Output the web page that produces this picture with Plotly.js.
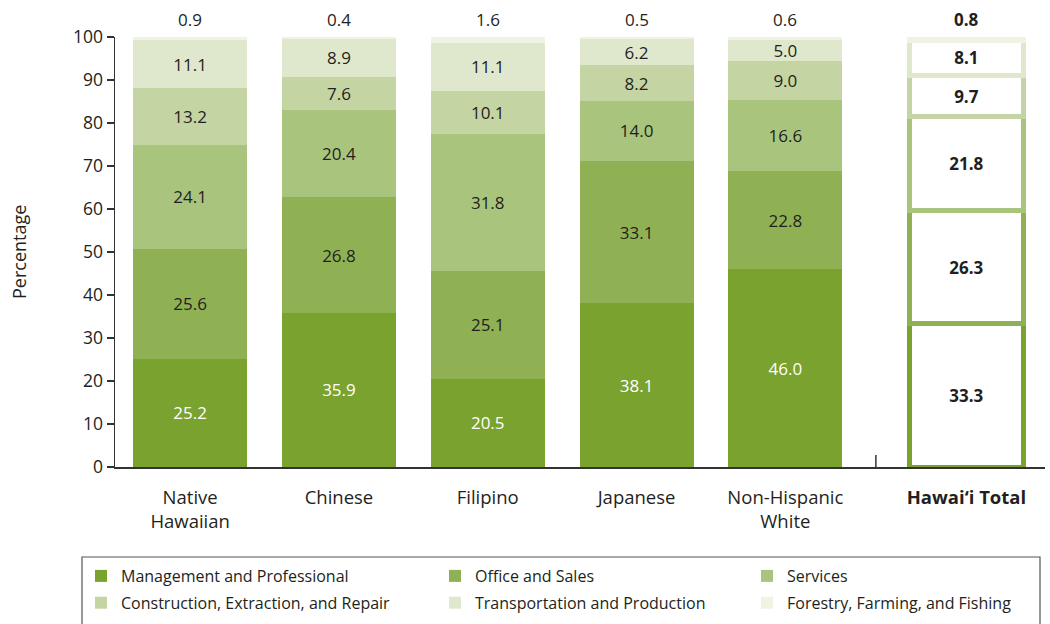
<!DOCTYPE html>
<html>
<head>
<meta charset="utf-8">
<script src="https://cdn.plot.ly/plotly-3.0.1.min.js"></script>
<style>html,body{margin:0;padding:0;background:#fff;}#chart{width:1050px;height:624px;}</style>
</head>
<body>
<div id="chart"></div>
<script>
const categories = ['Native<br>Hawaiian', 'Chinese', 'Filipino', 'Japanese', 'Non-Hispanic<br>White', '<b>Hawai\u2018i Total</b>'];
const seriesNames = ['Management and Professional', 'Office and Sales', 'Services',
  'Construction, Extraction, and Repair', 'Transportation and Production', 'Forestry, Farming, and Fishing'];
const management   = [25.2, 35.9, 20.5, 38.1, 46.0, 33.3];
const officeSales  = [25.6, 26.8, 25.1, 33.1, 22.8, 26.3];
const services     = [24.1, 20.4, 31.8, 14.0, 16.6, 21.8];
const construction = [13.2, 7.6, 10.1, 8.2, 9.0, 9.7];
const transport    = [11.1, 8.9, 11.1, 6.2, 5.0, 8.1];
const forestry     = [0.9, 0.4, 1.6, 0.5, 0.6, 0.8];
const yTicks = [0, 10, 20, 30, 40, 50, 60, 70, 80, 90, 100];

const colors = ['#7AA22F', '#90B153', '#A9C47D', '#C5D4A3', '#DFE8CD', '#EEF3E4'];
const series = [management, officeSales, services, construction, transport, forestry];
const legendIds = ['legend', 'legend2', 'legend3', 'legend', 'legend2', 'legend3'];
const n = categories.length;
const totalIdx = n - 1;
const gap = 0.217;
const xs = categories.map((c, i) => i === totalIdx ? i + gap : i);
const FONT = 'Open Sans, sans-serif';
const dark = '#231F20';

const traces = series.map((vals, s) => {
  const showText = s < 5;
  return {
    type: 'bar',
    name: seriesNames[s],
    legend: legendIds[s],
    legendgroup: 'g' + s,
    x: xs,
    y: vals,
    width: 0.766,
    marker: {
      color: vals.map((v, i) => i === totalIdx ? '#ffffff' : colors[s]),
      line: {
        color: colors[s],
        width: vals.map((v, i) => i === totalIdx ? 5 : 0)
      }
    },
    text: showText ? vals.map((v, i) => i === totalIdx ? '<b>' + v.toFixed(1) + '</b>' : v.toFixed(1)) : vals.map(() => ''),
    textposition: 'inside',
    insidetextanchor: 'middle',
    textangle: 0,
    constraintext: 'none',
    textfont: {
      family: FONT, size: 17,
      color: vals.map((v, i) => (s === 0 && i !== totalIdx) ? '#ffffff' : dark)
    },
    hoverinfo: 'skip',
    cliponaxis: true
  };
});

const annotations = forestry.map((v, i) => ({
  x: xs[i], y: 100, xref: 'x', yref: 'y',
  yanchor: 'bottom', yshift: 4,
  text: i === totalIdx ? '<b>' + v.toFixed(1) + '</b>' : v.toFixed(1),
  showarrow: false,
  font: {family: FONT, size: 17, color: dark}
}));
annotations.push({
  xref: 'paper', yref: 'paper', x: (19 - 115) / 930, y: 0.5,
  xanchor: 'center', yanchor: 'middle',
  text: 'Percentage', textangle: -90, showarrow: false,
  font: {family: FONT, size: 18, color: dark}
});

const sepX = (xs[totalIdx - 1] + xs[totalIdx]) / 2;
const shapes = [
  {type: 'line', xref: 'x', yref: 'y', x0: sepX, x1: sepX, y0: 0, y1: 2.8,
   line: {color: '#333', width: 1.5}},
  {type: 'rect', xref: 'paper', yref: 'paper',
   x0: (82 - 115) / 930, x1: (1040 - 115) / 930,
   y0: -(640 - 467) / 430, y1: -(557 - 467) / 430,
   line: {color: '#555', width: 1.2}, fillcolor: 'rgba(0,0,0,0)'}
];

function legendAt(px) {
  return {
    orientation: 'v',
    xref: 'container', yref: 'container',
    x: px / 1050, xanchor: 'left',
    y: 1 - 559 / 624, yanchor: 'top',
    traceorder: 'grouped', tracegroupgap: 3,
    font: {family: FONT, size: 16, color: dark},
    bgcolor: 'rgba(0,0,0,0)', borderwidth: 0,
    itemclick: false, itemdoubleclick: false
  };
}

const layout = {
  width: 1050, height: 624,
  margin: {l: 115, r: 5, t: 37, b: 157, autoexpand: false},
  paper_bgcolor: '#ffffff', plot_bgcolor: '#ffffff',
  barmode: 'stack',
  font: {family: FONT, color: dark},
  showlegend: true,
  legend: legendAt(81),
  legend2: legendAt(435),
  legend3: legendAt(747),
  xaxis: {
    range: [-0.505, 5.745],
    tickvals: xs, ticktext: categories,
    ticks: '', showgrid: false, zeroline: false,
    showline: true, linecolor: '#333', linewidth: 1.5,
    tickfont: {family: FONT, size: 18.5, color: dark},
    ticklabelstandoff: 13,
    automargin: false,
    fixedrange: true
  },
  yaxis: {
    range: [0, 100],
    tickvals: yTicks,
    ticks: 'outside', ticklen: 7, tickwidth: 1.5, tickcolor: '#333',
    showgrid: false, zeroline: false,
    showline: true, linecolor: '#333', linewidth: 1.5,
    tickfont: {family: FONT, size: 17.5, color: dark},
    automargin: false,
    fixedrange: true
  },
  annotations: annotations,
  shapes: shapes
};

Plotly.newPlot('chart', traces, layout, {displayModeBar: false, staticPlot: true});
</script>
</body>
</html>
